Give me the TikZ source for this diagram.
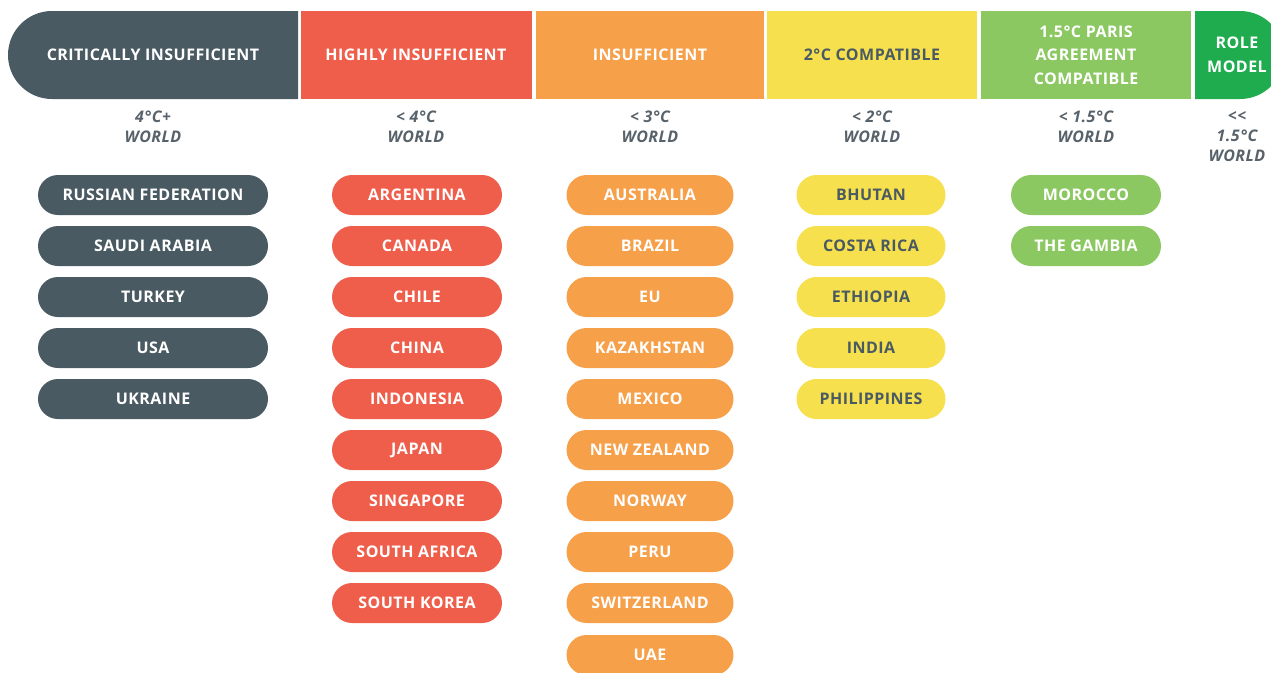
\documentclass[tikz,border=0pt]{standalone}
\usepackage{fontspec}
\setmainfont{Open Sans}
\usetikzlibrary{shapes.misc}

\definecolor{critgray}{RGB}{74,90,98}
\definecolor{highred}{RGB}{239,94,74}
\definecolor{insorange}{RGB}{247,160,74}
\definecolor{twoyellow}{RGB}{246,224,78}
\definecolor{parisgreen}{RGB}{140,200,98}
\definecolor{rolegreen}{RGB}{30,172,78}
\definecolor{worldgray}{RGB}{88,98,106}

\newcommand{\capsfont}{\fontsize{12}{17.6}\selectfont\bfseries\addfontfeature{LetterSpace=3}}
\newcommand{\worldfont}{\fontsize{12}{15}\selectfont\bfseries\itshape\addfontfeature{LetterSpace=3}}

\begin{document}
\begin{tikzpicture}[x=0.75pt,y=0.75pt,yscale=-1,xscale=1,
  head/.style={inner sep=0.75pt, align=center, text=white, font=\capsfont},
  world/.style={inner sep=0.75pt, align=center, text=worldgray, font=\worldfont},
  pill/.style={rounded rectangle, minimum height=30pt, inner sep=0pt, text=white, font=\capsfont},
  critpill/.style={pill, fill=critgray, minimum width=172.5pt},
  highpill/.style={pill, fill=highred, minimum width=127.5pt},
  inspill/.style={pill, fill=insorange, minimum width=125.25pt},
  twopill/.style={pill, fill=twoyellow, minimum width=111.75pt, text=critgray},
  parispill/.style={pill, fill=parisgreen, minimum width=112.5pt}]
\clip (0,0) rectangle (1271,672); %picture is 1271 by 672

%Header bar
\fill [critgray] (298,11) -- (52,11) arc [start angle=270, end angle=90, radius=44] -- (298,99) -- cycle ;
\fill [highred] (301,11) rectangle (532,99) ;
\fill [insorange] (536,11) rectangle (764,99) ;
\fill [twoyellow] (767,11) rectangle (977,99) ;
\fill [parisgreen] (981,11) rectangle (1191,99) ;
\fill [rolegreen] (1195,11) -- (1240,11) arc [start angle=270, end angle=450, radius=44] -- (1195,99) -- cycle ;

% Text Node
\node [head] (hCrit) at (153,55) {CRITICALLY INSUFFICIENT};
% Text Node
\node [head] (hHigh) at (416,55) {HIGHLY INSUFFICIENT};
% Text Node
\node [head] (hIns) at (650,55) {INSUFFICIENT};
% Text Node
\node [head, text=critgray] (hTwo) at (872,55) {2°C COMPATIBLE};
% Text Node
\node [head] (hParis) at (1086,55) {1.5°C PARIS\\AGREEMENT\\COMPATIBLE};
% Text Node
\node [head] (hRole) at (1237,55) {ROLE\\MODEL};

% Text Node
\node [world] (wCrit) at (153,127) {4°C+\\WORLD};
% Text Node
\node [world] (wHigh) at (416,127) {< 4°C\\WORLD};
% Text Node
\node [world] (wIns) at (650,127) {< 3°C\\WORLD};
% Text Node
\node [world] (wTwo) at (872,127) {< 2°C\\WORLD};
% Text Node
\node [world] (wParis) at (1086,127) {< 1.5°C\\WORLD};
% Text Node
\node [world] (wRole) at (1237,137) {{<}{<}\\1.5°C\\WORLD};

%Critically insufficient
\node [critpill] (rus) at (153,195) {RUSSIAN FEDERATION};
\node [critpill] (sau) at (153,246) {SAUDI ARABIA};
\node [critpill] (tur) at (153,297) {TURKEY};
\node [critpill] (usa) at (153,348) {USA};
\node [critpill] (ukr) at (153,399) {UKRAINE};

%Highly insufficient
\node [highpill] (arg) at (417,195) {ARGENTINA};
\node [highpill] (can) at (417,246) {CANADA};
\node [highpill] (chl) at (417,297) {CHILE};
\node [highpill] (chn) at (417,348) {CHINA};
\node [highpill] (idn) at (417,399) {INDONESIA};
\node [highpill] (jpn) at (417,450) {JAPAN};
\node [highpill] (sgp) at (417,501) {SINGAPORE};
\node [highpill] (zaf) at (417,552) {SOUTH AFRICA};
\node [highpill] (kor) at (417,603) {SOUTH KOREA};

%Insufficient
\node [inspill] (aus) at (650,195) {AUSTRALIA};
\node [inspill] (bra) at (650,246) {BRAZIL};
\node [inspill] (eu) at (650,297) {EU};
\node [inspill] (kaz) at (650,348) {KAZAKHSTAN};
\node [inspill] (mex) at (650,399) {MEXICO};
\node [inspill] (nzl) at (650,450) {NEW ZEALAND};
\node [inspill] (nor) at (650,501) {NORWAY};
\node [inspill] (per) at (650,552) {PERU};
\node [inspill] (che) at (650,603) {SWITZERLAND};
\node [inspill] (uae) at (650,655) {UAE};

%2 degree compatible
\node [twopill] (btn) at (871,195) {BHUTAN};
\node [twopill] (cri) at (871,246) {COSTA RICA};
\node [twopill] (eth) at (871,297) {ETHIOPIA};
\node [twopill] (ind) at (871,348) {INDIA};
\node [twopill] (phl) at (871,399) {PHILIPPINES};

%1.5 degree compatible
\node [parispill] (mar) at (1086,195) {MOROCCO};
\node [parispill] (gmb) at (1086,246) {THE GAMBIA};

\end{tikzpicture}
\end{document}
